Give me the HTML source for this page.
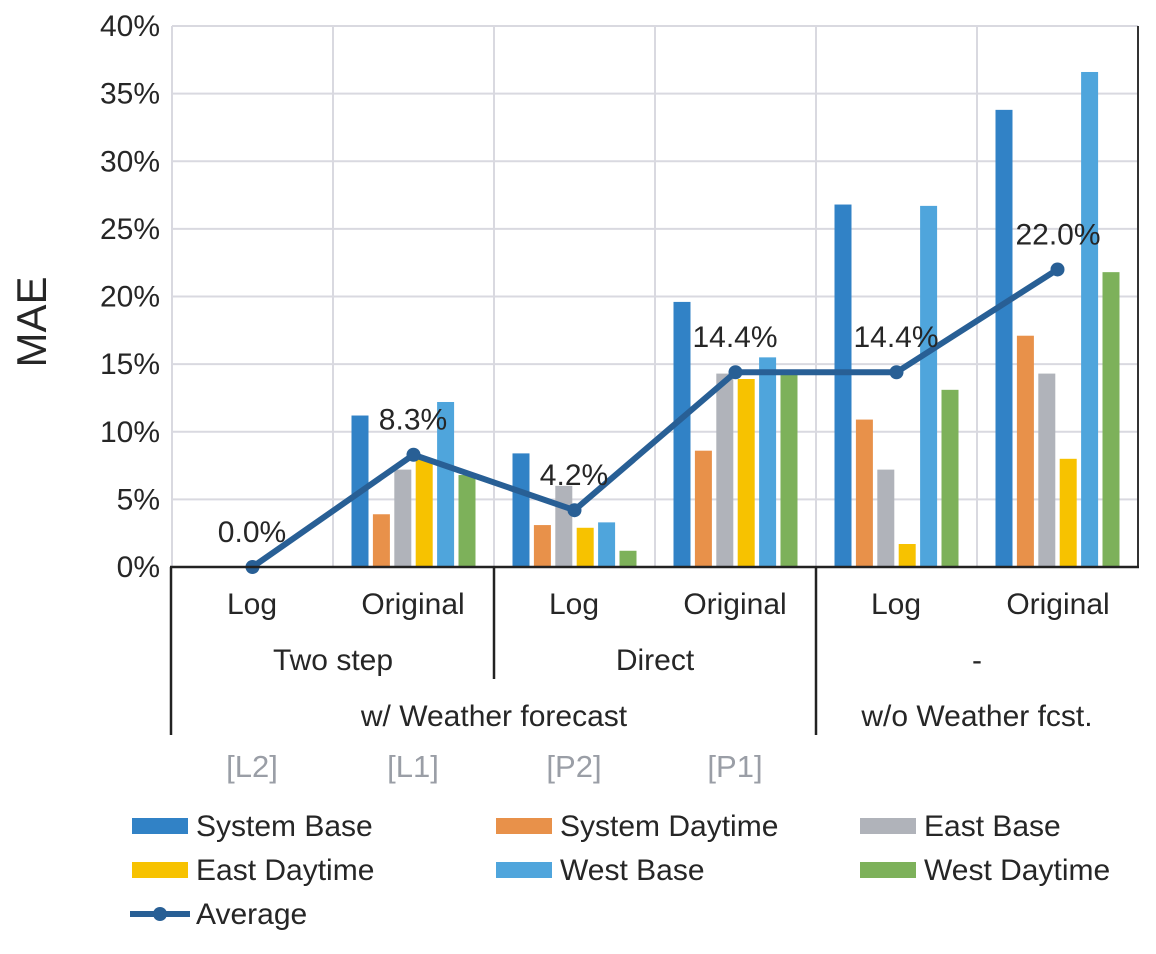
<!DOCTYPE html>
<html><head><meta charset="utf-8"><style>
body{margin:0;background:#fff;}
svg text{font-family:"Liberation Sans",sans-serif;fill:#262626;}
</style></head><body>
<svg width="1156" height="949" xmlns="http://www.w3.org/2000/svg">
<script>
(function(){
var svgns="http://www.w3.org/2000/svg";
var s=document.currentScript.parentNode;
function el(n,a,t){var e=document.createElementNS(svgns,n);for(var k in a)e.setAttribute(k,a[k]);if(t!==undefined)e.textContent=t;s.appendChild(e);return e;}
function Y(v){return 567-v*13.525;}
for(var i=1;i<=8;i++){el('line',{x1:172,x2:1138,y1:Y(i*5),y2:Y(i*5),stroke:'#d9d9e0','stroke-width':2});}
for(var j=1;j<6;j++){var x=172+j*161;el('line',{x1:x,x2:x,y1:26,y2:567,stroke:'#d9d9e0','stroke-width':2});}
el('line',{x1:172,x2:172,y1:26,y2:567,stroke:'#d9d9e0','stroke-width':2});
el('line',{x1:1138,x2:1138,y1:26,y2:567,stroke:'#333','stroke-width':2});
for(var i=0;i<=8;i++){el('text',{x:160,y:Y(i*5)+10,'text-anchor':'end','font-size':30},(i*5)+'%');}
var cols=['#3182c6','#e8914a','#b0b3ba','#f7c200','#4fa5dc','#7db15a'];
var data=[[0,0,0,0,0,0],[11.2,3.9,7.2,8.0,12.2,6.8],[8.4,3.1,6.0,2.9,3.3,1.2],[19.6,8.6,14.3,13.9,15.5,14.3],[26.8,10.9,7.2,1.7,26.7,13.1],[33.8,17.1,14.3,8.0,36.6,21.8]];
var centers=[252.5,413.5,574.5,735.5,896.5,1057.5];
for(var g=0;g<6;g++)for(var b=0;b<6;b++){var v=data[g][b];if(v<=0)continue;var x=centers[g]-62+b*21.4;el('rect',{x:x,y:Y(v),width:17,height:567-Y(v),fill:cols[b]});}
var avg=[0,8.3,4.2,14.4,14.4,22.0];
var pts=avg.map(function(v,i){return centers[i]+','+Y(v);}).join(' ');
el('polyline',{points:pts,fill:'none',stroke:'#285f95','stroke-width':6,'stroke-linejoin':'round'});
var lblx=[252,413,574,735,896,1058];
for(var i=0;i<6;i++){el('circle',{cx:centers[i],cy:Y(avg[i]),r:7,fill:'#285f95'});
el('text',{x:lblx[i],y:Y(avg[i])-25,'text-anchor':'middle','font-size':30},avg[i].toFixed(1)+'%');}
el('line',{x1:170,x2:1139,y1:567,y2:567,stroke:'#222','stroke-width':2.5});
el('line',{x1:171,x2:171,y1:567,y2:735,stroke:'#222','stroke-width':2.5});
el('line',{x1:494,x2:494,y1:567,y2:679,stroke:'#222','stroke-width':2.5});
el('line',{x1:816,x2:816,y1:567,y2:735,stroke:'#222','stroke-width':2.5});
var sub=['Log','Original','Log','Original','Log','Original'];
for(var i=0;i<6;i++)el('text',{x:lblx[i],y:614,'text-anchor':'middle','font-size':30},sub[i]);
el('text',{x:333,y:670,'text-anchor':'middle','font-size':30},'Two step');
el('text',{x:655,y:670,'text-anchor':'middle','font-size':30},'Direct');
el('text',{x:977,y:670,'text-anchor':'middle','font-size':30},'-');
el('text',{x:494,y:726,'text-anchor':'middle','font-size':30},'w/ Weather forecast');
el('text',{x:977,y:726,'text-anchor':'middle','font-size':30},'w/o Weather fcst.');
var tags=['[L2]','[L1]','[P2]','[P1]'];
for(var i=0;i<4;i++)el('text',{x:lblx[i],y:777,'text-anchor':'middle','font-size':31,style:'fill:#9a9ea6'},tags[i]);
el('text',{x:0,y:0,'font-size':42,transform:'translate(46,322) rotate(-90)','text-anchor':'middle'},'MAE');
var names=['System Base','System Daytime','East Base','East Daytime','West Base','West Daytime'];
for(var i=0;i<6;i++){var cx=[132,496,860][i%3],cy=[826,870][Math.floor(i/3)];
el('rect',{x:cx,y:cy-8,width:56,height:16,fill:cols[i]});
el('text',{x:cx+64,y:cy+10,'font-size':30},names[i]);}
el('line',{x1:130,x2:190,y1:914,y2:914,stroke:'#285f95','stroke-width':6});
el('circle',{cx:160,cy:914,r:7,fill:'#285f95'});
el('text',{x:196,y:924,'font-size':30},'Average');
})();
</script>
</svg>
</body></html>
